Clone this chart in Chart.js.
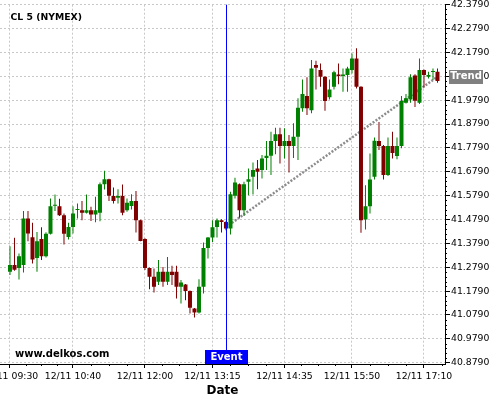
<!DOCTYPE html>
<html><head><meta charset="utf-8">
<script src="https://cdn.jsdelivr.net/npm/chart.js@4/dist/chart.umd.min.js"></script>
<style>html,body{margin:0;padding:0;background:#fff}#wrap{width:500px;height:400px}</style>
</head><body><div id="wrap"><canvas id="c" width="500" height="400"></canvas></div>
<script>
// ---- data ----
const times = [
 '09:30','09:35','09:40','09:45','09:50','09:55',
 '10:00','10:05','10:10','10:15','10:20','10:25','10:30','10:35','10:40','10:45','10:50','10:55',
 '11:00','11:05','11:10','11:15','11:20','11:25','11:30','11:35','11:40','11:45','11:50','11:55',
 '12:00','12:05','12:10','12:15','12:20','12:25','12:30','12:35','12:40','12:45','12:50','12:55',
 '13:00','13:05','13:10','13:15','13:20','13:25','13:30','13:35','13:40','13:45','13:50','13:55',
 '14:00','14:05','14:10','14:15','14:20','14:25','14:30','14:35','14:40','14:45','14:50','14:55',
 '15:00','15:05','15:10','15:15','15:20','15:25','15:30','15:35','15:40','15:45','15:50','15:55',
 '16:00','16:05','16:10','16:15','16:20','16:25','16:30','16:35','16:40','16:45','16:50','16:55',
 '17:00','17:05','17:10','17:15','17:20','17:25'
];
const opens = [
 41.260,41.288,41.276,41.288,41.483,41.405,41.318,41.397,41.325,41.419,
 41.537,41.535,41.497,41.406,41.448,41.519,41.518,41.507,41.518,41.500,
 41.507,41.627,41.648,41.577,41.570,41.577,41.518,41.536,41.556,41.476,
 41.397,41.276,41.239,41.218,41.260,41.218,41.260,41.260,41.197,41.207,
 41.179,41.106,41.089,41.197,41.360,41.404,41.448,41.476,41.469,41.441,
 41.578,41.627,41.518,41.637,41.658,41.693,41.686,41.737,41.746,41.808,
 41.836,41.787,41.808,41.787,41.826,41.945,41.996,41.937,42.126,42.105,
 42.077,41.991,42.035,42.087,42.080,42.084,42.105,42.154,42.035,41.479,
 41.535,41.658,41.808,41.787,41.665,41.787,41.745,41.787,41.968,41.982,
 42.082,41.968,42.105,42.077,42.097,42.098
];
const highs = [
 41.367,41.402,41.337,41.515,41.515,41.465,41.427,41.446,41.426,41.567,
 41.584,41.566,41.504,41.465,41.535,41.546,41.556,41.584,41.532,41.574,
 41.634,41.683,41.650,41.613,41.606,41.626,41.567,41.585,41.598,41.478,
 41.400,41.278,41.274,41.309,41.280,41.322,41.285,41.285,41.225,41.209,
 41.181,41.108,41.229,41.383,41.406,41.476,41.483,41.480,41.472,41.595,
 41.654,41.630,41.637,41.693,41.718,41.728,41.749,41.808,41.847,41.863,
 41.863,41.861,41.833,41.882,41.987,42.066,42.075,42.147,42.144,42.133,
 42.079,42.066,42.102,42.133,42.112,42.119,42.175,42.196,42.037,41.623,
 41.756,41.823,41.888,41.791,41.823,41.847,41.823,41.996,42.005,42.088,
 42.088,42.154,42.107,42.098,42.112,42.112
];
const lows = [
 41.246,41.264,41.228,41.257,41.388,41.295,41.260,41.309,41.320,41.416,
 41.515,41.494,41.374,41.395,41.420,41.483,41.476,41.504,41.473,41.467,
 41.472,41.605,41.556,41.546,41.546,41.497,41.511,41.521,41.425,41.388,
 41.267,41.187,41.173,41.204,41.197,41.204,41.204,41.148,41.127,41.141,
 41.085,41.068,41.085,41.169,41.316,41.385,41.404,41.425,41.434,41.416,
 41.567,41.486,41.494,41.581,41.584,41.606,41.651,41.686,41.665,41.752,
 41.714,41.735,41.676,41.737,41.728,41.930,41.917,41.924,42.024,42.035,
 41.935,41.982,42.024,42.046,42.014,42.014,42.091,42.028,41.423,41.437,
 41.504,41.647,41.770,41.647,41.661,41.735,41.731,41.778,41.965,41.968,
 41.950,41.963,42.033,42.070,42.063,42.052
];
const closes = [
 41.288,41.268,41.325,41.483,41.420,41.311,41.388,41.325,41.419,41.535,
 41.541,41.497,41.419,41.448,41.504,41.522,41.507,41.518,41.500,41.518,
 41.627,41.648,41.578,41.556,41.577,41.507,41.549,41.556,41.476,41.389,
 41.276,41.239,41.197,41.260,41.218,41.260,41.246,41.197,41.215,41.179,
 41.109,41.089,41.197,41.360,41.404,41.446,41.476,41.469,41.441,41.585,
 41.634,41.518,41.627,41.648,41.686,41.679,41.735,41.746,41.808,41.836,
 41.787,41.808,41.787,41.826,41.947,42.005,41.945,42.112,42.115,42.077,
 41.976,42.024,42.096,42.080,42.087,42.112,42.154,42.035,41.476,41.535,
 41.647,41.809,41.787,41.665,41.787,41.758,41.787,41.976,41.987,42.075,
 41.977,42.105,42.084,42.084,42.101,42.059
];
const yTicks = [40.879,40.979,41.079,41.179,41.279,41.379,41.479,41.579,41.679,41.779,41.879,41.979,42.079,42.179,42.279,42.379];
const xTickTimes = ['09:30','10:40','12:00','13:15','14:35','15:50','17:10'];
const datePrefix = '12/11 ';
const eventTime = '13:30';
const trendTimes = ['13:30','17:25'];
const trendPrices = [41.447, 42.077];
const chartTitle = 'CL 5 (NYMEX)';
const watermark = 'www.delkos.com';

// ---- build ----
const idx = t => times.indexOf(t);
const GREEN = '#008000', RED = '#800000';
const FONT = "'DejaVu Sans', sans-serif";
const colors = opens.map((o, i) => closes[i] >= o ? GREEN : RED);
const bodies = opens.map((o, i) => ({x: i, y: [o, closes[i]]}));
const wicks = lows.map((l, i) => ({x: i, y: [l, highs[i]]}));
const trend = trendTimes.map((t, i) => ({x: idx(t), y: trendPrices[i]}));
const xTicks = xTickTimes.map(idx);

const overlay = {
  id: 'overlay',
  afterDatasetsDraw(chart) {
    const {ctx, chartArea: a, scales: {x}} = chart;
    const ex = Math.round(x.getPixelForValue(idx(eventTime))) + 0.5;
    ctx.save();
    ctx.strokeStyle = '#0000ff'; ctx.lineWidth = 1;
    ctx.beginPath(); ctx.moveTo(ex, a.top); ctx.lineTo(ex, a.bottom - 14); ctx.stroke();
    ctx.fillStyle = '#0000ff';
    ctx.fillRect(Math.round(ex - 22), Math.round(a.bottom - 14), 43, 14);
    ctx.fillStyle = '#ffffff'; ctx.font = 'bold 10px ' + FONT;
    ctx.textAlign = 'center'; ctx.textBaseline = 'middle';
    ctx.fillText('Event', ex, a.bottom - 7);
    ctx.fillStyle = '#000'; ctx.textAlign = 'left'; ctx.textBaseline = 'alphabetic';
    ctx.font = 'bold 9.3px ' + FONT; ctx.fillText(chartTitle, 10.5, 19.5);
    ctx.font = 'bold 10px ' + FONT; ctx.fillText(watermark, 15, 357.3);
    ctx.restore();
  },
  afterDraw(chart) {
    const {ctx, chartArea: a, scales: {x, y}} = chart;
    ctx.save();
    ctx.strokeStyle = '#000'; ctx.lineWidth = 1;
    ctx.beginPath();
    for (let k = 0; k < yTicks.length - 1; k++) {
      for (let m = 1; m < 5; m++) {
        const v = yTicks[k] + (yTicks[k + 1] - yTicks[k]) * m / 5;
        const py = Math.round(y.getPixelForValue(v)) + 0.5;
        ctx.moveTo(a.right, py); ctx.lineTo(a.right + 2, py);
      }
    }
    const xs = xTicks.slice();
    const last = xs[xs.length - 1], step = (xs[xs.length - 1] - xs[xs.length - 2]);
    xs.push(last + step);
    for (let k = 0; k < xs.length - 1; k++) {
      for (let m = 1; m < 4; m++) {
        const v = xs[k] + (xs[k + 1] - xs[k]) * m / 4;
        if (v > x.max) continue;
        const px = Math.round(x.getPixelForValue(v)) + 0.5;
        ctx.moveTo(px, a.bottom); ctx.lineTo(px, a.bottom + 2);
      }
    }
    ctx.stroke();
    const p = trend[trend.length - 1];
    const py = y.getPixelForValue(p.y);
    ctx.fillStyle = '#808080';
    ctx.fillRect(a.right + 4, Math.round(py - 7), 34, 14);
    ctx.fillStyle = '#fff'; ctx.font = 'bold 10px ' + FONT;
    ctx.textAlign = 'center'; ctx.textBaseline = 'middle';
    ctx.fillText('Trend', a.right + 21, py);
    ctx.restore();
  }
};

const gridCommon = {color: '#c8c8c8', lineWidth: 1, drawTicks: true, tickColor: '#000', tickWidth: 1, tickBorderDash: [], offset: false};
const borderCommon = {display: true, color: '#000', width: 1, dash: [2, 2]};

new Chart(document.getElementById('c'), {
  type: 'bar',
  data: {
    datasets: [
      {type: 'line', data: trend, borderColor: '#8c8c8c', borderWidth: 2.5, borderDash: [2, 1.6],
       pointRadius: 0, fill: false, order: 3},
      {type: 'bar', data: wicks, backgroundColor: colors, grouped: false, barPercentage: 1,
       categoryPercentage: 1, maxBarThickness: 1, borderWidth: 0, inflateAmount: 0, order: 2},
      {type: 'bar', data: bodies, backgroundColor: colors, grouped: false, barPercentage: 1,
       categoryPercentage: 1, maxBarThickness: 4, minBarLength: 1, borderWidth: 0, inflateAmount: 0, order: 1}
    ]
  },
  options: {
    responsive: false, animation: false, devicePixelRatio: 1, events: [],
    layout: {padding: {top: 4.7, left: 0, right: 0, bottom: 0}},
    plugins: {legend: {display: false}, tooltip: {enabled: false}, title: {display: false}},
    scales: {
      x: {
        type: 'linear', position: 'bottom', min: -2.22, max: 96.67, offset: false,
        afterBuildTicks: s => { s.ticks = xTicks.map(v => ({value: v})); },
        afterFit: s => { s.height = 36; s.paddingLeft = 0; s.paddingRight = 0; },
        grid: Object.assign({}, gridCommon, {tickLength: 4}),
        border: borderCommon,
        ticks: {autoSkip: false, maxRotation: 0, minRotation: 0, padding: 3, color: '#000',
                font: {family: FONT, size: 9.3}, callback: v => datePrefix + times[v]},
        title: {display: true, text: 'Date', color: '#000',
                font: {family: FONT, size: 12, weight: 'bold'}, padding: {top: 0, bottom: 2}}
      },
      y: {
        type: 'linear', position: 'right', min: 40.8735, max: 42.379, beginAtZero: false,
        afterBuildTicks: s => { s.ticks = yTicks.map(v => ({value: v})); },
        afterFit: s => { s.width = 55; s.paddingTop = 0; s.paddingBottom = 0; },
        grid: Object.assign({}, gridCommon, {tickLength: 5}),
        border: borderCommon,
        ticks: {padding: 1, color: '#000', font: {family: FONT, size: 9.3},
                callback: v => Number(v).toFixed(4)}
      }
    }
  },
  plugins: [overlay]
});
</script></body></html>
